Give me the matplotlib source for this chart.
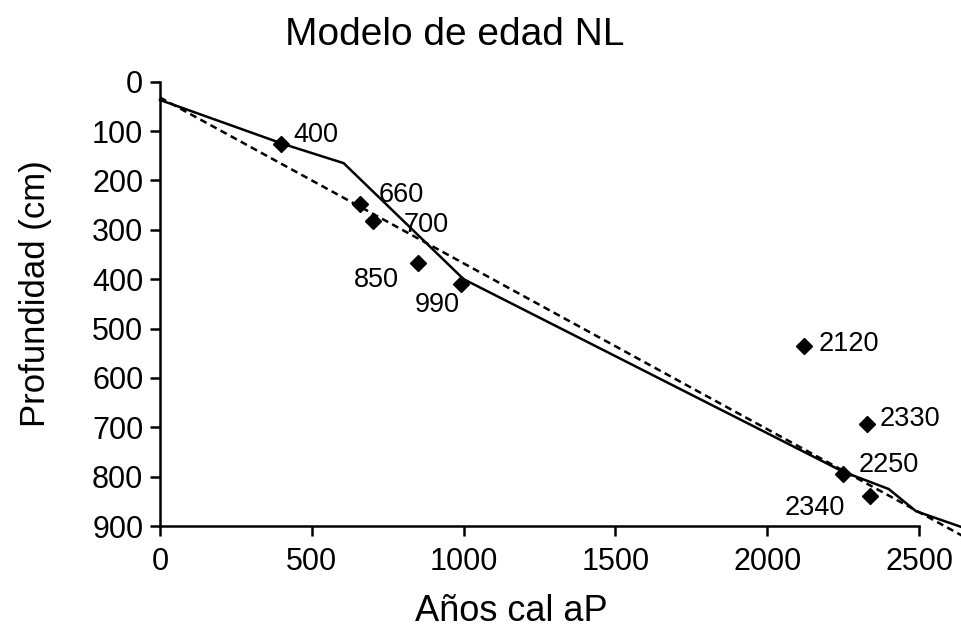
import matplotlib
matplotlib.use("Agg")
import matplotlib.pyplot as plt

plt.rcParams['font.family'] = ['Liberation Sans', 'DejaVu Sans']

# fechas calibradas (edad, profundidad)
edades = [400, 660, 700, 850, 990, 2120, 2330, 2250, 2340]
profundidad = [127, 248, 282, 368, 409, 536, 693, 794, 839]
etiquetas = ['400', '660', '700', '850', '990', '2120', '2330', '2250', '2340']
# offset de la etiqueta en pixeles y alineacion
offsets = [(12, 9, 'left'), (18, 9, 'left'), (31, -4, 'left'), (-19, -17, 'right'),
           (-23, -21, 'center'), (15, 2, 'left'), (12, 5, 'left'), (16, 9, 'left'),
           (-25, -12, 'right')]

# modelo de edad (linea continua)
modelo_x = [0, 410, 605, 1000, 2250, 2400, 2490, 2700]
modelo_y = [37, 127, 165, 400, 790, 825, 870, 915]

# regresion lineal (linea discontinua)
reg_x = [0, 2700]
reg_y = [32, 939]

fig = plt.figure(figsize=(9.61, 6.29), dpi=100)
ax = fig.add_axes([160/961, 1 - 526/629, (919-160)/961, (526-81.7)/629])

ax.plot(modelo_x, modelo_y, color='black', lw=1.8, clip_on=False, zorder=2)
ax.plot(reg_x, reg_y, color='black', lw=1.8, ls=(0, (2.8, 1.8)), clip_on=False, zorder=2)
ax.plot(edades, profundidad, ls='none', marker='D', ms=8, color='black', zorder=3, clip_on=False)

for x, y, t, (dx, dy, ha) in zip(edades, profundidad, etiquetas, offsets):
    ax.annotate(t, (x, y), xytext=(dx, dy), textcoords='offset pixels',
                ha=ha, va='center', fontsize=19.5)

ax.set_xlim(0, 2500)
ax.set_ylim(900, 0)
ax.set_xticks([0, 500, 1000, 1500, 2000, 2500])
ax.set_yticks(range(0, 1000, 100))
for s in ['top', 'right']:
    ax.spines[s].set_visible(False)
for s in ['left', 'bottom']:
    ax.spines[s].set_linewidth(1.8)
ax.tick_params(direction='out', length=7, width=1.8, labelsize=22)
ax.tick_params(axis='x', pad=8)
ax.tick_params(axis='y', pad=5)

ax.set_xlabel('Años cal aP', fontsize=26)
ax.set_ylabel('Profundidad (cm)', fontsize=25)
ax.xaxis.set_label_coords((511-160)/(919-160), -(594-526)/(526-81.7))
ax.yaxis.set_label_coords(-(160-52)/(919-160), (526-294)/(526-81.7))

fig.text(455/961, 1 - 35/629, 'Modelo de edad NL', fontsize=28, ha='center', va='center')

fig.savefig('out.png', dpi=100)
